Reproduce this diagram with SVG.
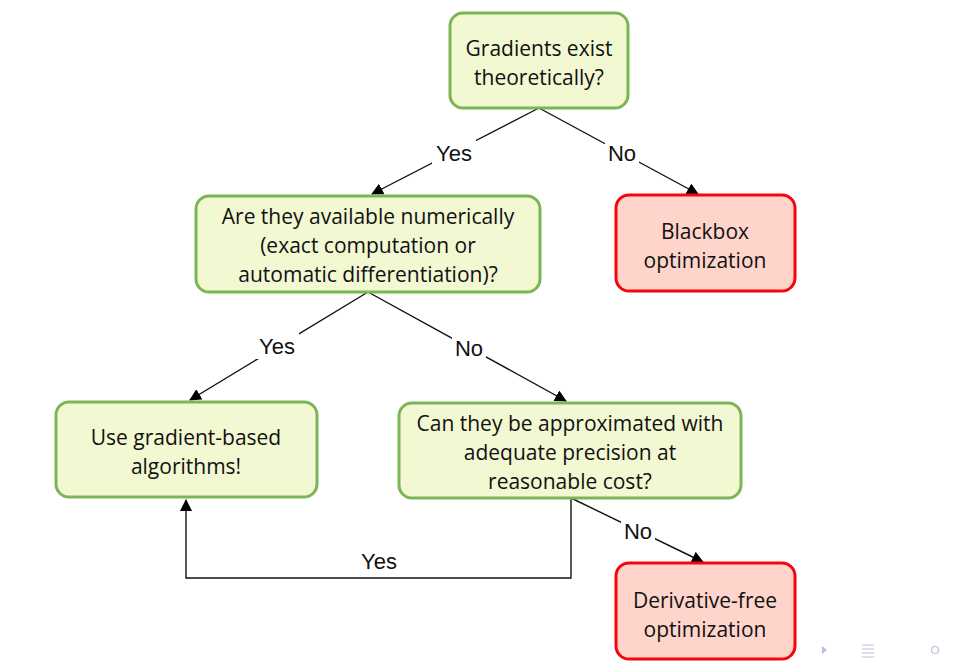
<svg xmlns="http://www.w3.org/2000/svg" width="953" height="664" viewBox="0 0 953 664">
<style>
.g{fill:#f2f8d2;stroke:#7cb556;stroke-width:3}
.r{fill:#fed4cb;stroke:#f4060c;stroke-width:3}
.t{font-family:"Open Sans","Liberation Sans",sans-serif;font-size:21px;fill:#111;text-anchor:middle}
.l{font-family:"Liberation Sans",Arial,sans-serif;font-size:22px;fill:#111;text-anchor:middle}
.c{fill:none;stroke:#111;stroke-width:1.4}
.lb{fill:#fff}
</style>
<defs>
<marker id="a" viewBox="0 0 12 12" refX="11" refY="6" markerWidth="12" markerHeight="12" markerUnits="userSpaceOnUse" orient="auto"><path d="M0,0L12,6L0,12z" fill="#000"/></marker>
</defs>
<rect width="953" height="664" fill="#fff"/>
<g id="connectors">
<path class="c" d="M539,108L372,194" marker-end="url(#a)"/>
<path class="c" d="M539,108L698,194" marker-end="url(#a)"/>
<path class="c" d="M368,292L190,400" marker-end="url(#a)"/>
<path class="c" d="M368,292L566,401" marker-end="url(#a)"/>
<path class="c" d="M571,498L571,578L186,578L186,500" marker-end="url(#a)"/>
<path class="c" d="M571,498L703,562" marker-end="url(#a)"/>
<rect class="lb" x="432" y="140" width="44" height="26"/>
<text class="l" x="454" y="161">Yes</text>
<rect class="lb" x="605" y="140" width="34" height="26"/>
<text class="l" x="622" y="161">No</text>
<rect class="lb" x="255" y="333" width="44" height="26"/>
<text class="l" x="277" y="354">Yes</text>
<rect class="lb" x="452" y="335" width="34" height="26"/>
<text class="l" x="469" y="356">No</text>
<text class="l" x="379" y="569">Yes</text>
<rect class="lb" x="621" y="518" width="34" height="26"/>
<text class="l" x="638" y="539">No</text>
</g>
<g id="n1"><rect class="g" x="450" y="13" width="178" height="95" rx="13"/>
<text class="t" x="539" y="56">Gradients exist</text><text class="t" x="539" y="85">theoretically?</text></g>
<g id="n2"><rect class="g" x="196" y="196" width="344" height="96" rx="13"/>
<text class="t" x="368" y="224">Are they available numerically</text><text class="t" x="368" y="253">(exact computation or</text><text class="t" x="368" y="282">automatic differentiation)?</text></g>
<g id="n3"><rect class="r" x="616" y="195" width="179" height="96" rx="13"/>
<text class="t" x="705" y="239">Blackbox</text><text class="t" x="705" y="268">optimization</text></g>
<g id="n4"><rect class="g" x="56" y="402" width="261" height="95" rx="13"/>
<text class="t" x="186" y="445">Use gradient-based</text><text class="t" x="186" y="474">algorithms!</text></g>
<g id="n5"><rect class="g" x="399" y="403" width="342" height="95" rx="13"/>
<text class="t" x="570" y="431">Can they be approximated with</text><text class="t" x="570" y="460">adequate precision at</text><text class="t" x="570" y="489">reasonable cost?</text></g>
<g id="n6"><rect class="r" x="616" y="563" width="179" height="96" rx="13"/>
<text class="t" x="705" y="608">Derivative-free</text><text class="t" x="705" y="637">optimization</text></g>
<g id="nav" fill="#b8bde0" stroke="#b8bde0">
<path d="M822,646L827,650L822,654z" stroke="none"/>
<path d="M862,645h12M862,649h12M862,653h12M862,657h12" fill="none" stroke-width="1.2"/>
<circle cx="935" cy="650" r="3.5" fill="none" stroke-width="1.2"/>
</g>
</svg>
